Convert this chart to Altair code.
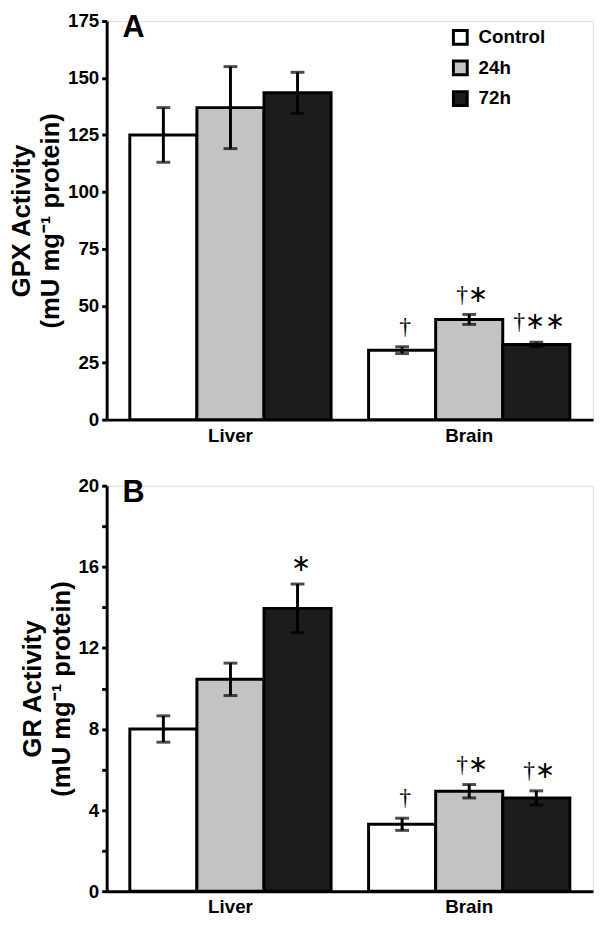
import altair as alt
import pandas as pd

groups = ["Liver", "Liver", "Liver", "Brain", "Brain", "Brain"]
series = ["Control", "24h", "72h", "Control", "24h", "72h"]
gpx_mean = [125, 137, 143.5, 30.5, 44, 33]
gpx_err = [12, 18, 9, 1.5, 2.2, 1.0]
gpx_marks = ["", "", "", "†", "†∗", "†∗∗"]
gr_mean = [8.0, 10.45, 13.95, 3.3, 4.93, 4.6]
gr_err = [0.65, 0.8, 1.2, 0.3, 0.33, 0.35]
gr_marks = ["", "", "∗", "†", "†∗", "†∗"]
series_order = ["Control", "24h", "72h"]
group_order = ["Liver", "Brain"]
bar_colors = ["#ffffff", "#c2c3c5", "#1c1c1c"]
gpx_ticks = [0, 12.5, 25, 37.5, 50, 62.5, 75, 87.5, 100, 112.5, 125, 137.5, 150, 162.5, 175]
gr_ticks = [0, 2, 4, 6, 8, 10, 12, 14, 16, 18, 20]

W = 493
FONT = "Liberation Sans"


def panel(mean, err, marks, ymax, ticks, major, title, letter, height):
    df = pd.DataFrame({
        "group": groups, "series": series, "mean": mean, "err": err, "mark": marks,
    })
    df["lo"] = df["mean"] - df["err"]
    df["hi"] = df["mean"] + df["err"]
    x = alt.X("group:N", sort=group_order,
              scale=alt.Scale(paddingInner=0.157, paddingOuter=0.097),
              axis=alt.Axis(title=None, labelAngle=0, ticks=False, labelPadding=7,
                            labelFontSize=19, labelFont=FONT, labelFontWeight="bold",
                            labelColor="black", domainColor="black", domainWidth=3))
    xo = alt.XOffset("series:N", sort=series_order,
                     scale=alt.Scale(paddingInner=0, paddingOuter=0))
    y = alt.Y("mean:Q", scale=alt.Scale(domain=[0, ymax], nice=False),
              axis=alt.Axis(title=title, values=ticks,
                            labelExpr=f"datum.value % {major} == 0 ? datum.label : ''",
                            labelFontSize=19, labelFont=FONT, labelFontWeight="bold",
                            labelColor="black", domainColor="black", domainWidth=3,
                            tickColor="black", tickWidth=3, tickSize=5, labelPadding=3,
                            titleFont=FONT, titleFontSize=26, titleFontWeight="bold",
                            titleColor="black", titleLineHeight=29, titlePadding=4,
                            grid=False))
    base = alt.Chart(df)
    bars = base.mark_bar(stroke="black", strokeWidth=3).encode(
        x=x, xOffset=xo, y=y,
        color=alt.Color("series:N", sort=series_order,
                        scale=alt.Scale(domain=series_order, range=bar_colors),
                        legend=alt.Legend(title=None, orient="none", legendX=349, legendY=7,
                                          symbolType="square", symbolSize=196,
                                          symbolStrokeColor="black", symbolStrokeWidth=3,
                                          labelFont=FONT, labelFontSize=19,
                                          labelFontWeight="bold", labelColor="black",
                                          labelOffset=9, rowPadding=4)),
    )
    rule = base.mark_rule(color="black", strokeWidth=3).encode(
        x=alt.X("group:N", sort=group_order), xOffset=xo,
        y=alt.Y("lo:Q"), y2="hi:Q")
    cap_hi = base.mark_tick(color="black", thickness=3, size=14).encode(
        x=alt.X("group:N", sort=group_order), xOffset=xo, y=alt.Y("hi:Q"))
    cap_lo = base.mark_tick(color="black", thickness=3, size=14).encode(
        x=alt.X("group:N", sort=group_order), xOffset=xo, y=alt.Y("lo:Q"))
    ann = base.mark_text(font="Liberation Serif", fontSize=24, baseline="bottom",
                         dy=-8, dx=3, color="black").encode(
        x=alt.X("group:N", sort=group_order), xOffset=xo, y=alt.Y("hi:Q"),
        text="mark:N")
    let = alt.Chart(pd.DataFrame({"t": [letter]})).mark_text(
        font=FONT, fontSize=31, fontWeight="bold", align="left", baseline="alphabetic",
        color="black").encode(text="t:N", x=alt.value(16), y=alt.value(16))
    return alt.layer(bars, rule, cap_hi, cap_lo, ann, let).properties(width=W, height=height)


top = panel(gpx_mean, gpx_err, gpx_marks, 175, gpx_ticks, 25,
            ["GPX Activity", "(mU mg⁻¹ protein)"], "A", 404)
bot = panel(gr_mean, gr_err, gr_marks, 20, gr_ticks, 4,
            ["GR Activity", "(mU mg⁻¹ protein)"], "B", 411)

chart = alt.vconcat(top, bot, spacing=30).resolve_scale(y="independent").properties(
    padding={"left": 0, "top": -3, "right": 0, "bottom": 0}
).configure_view(stroke=None).configure(background="white")

chart.save("out.html", embed_options={"renderer": "svg", "actions": False})
